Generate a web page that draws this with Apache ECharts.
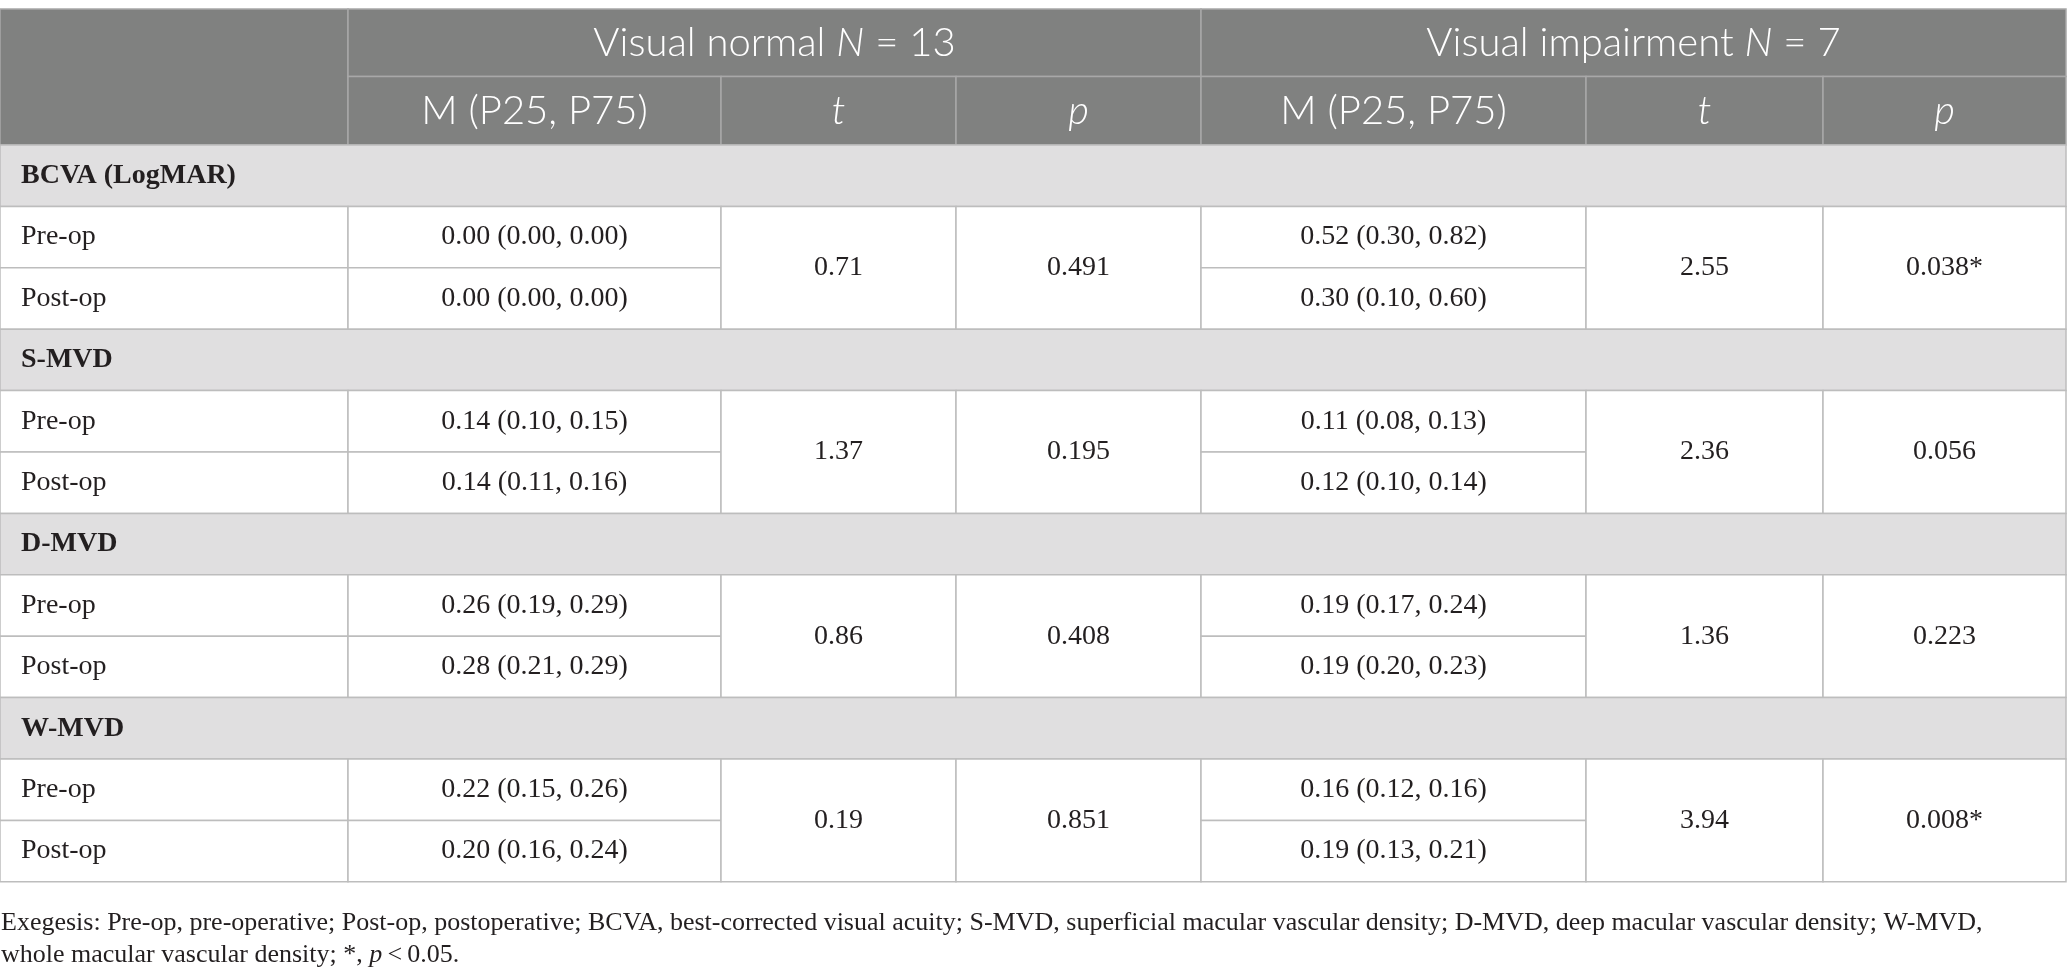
<!DOCTYPE html>
<html>
<head>
<meta charset="utf-8">
<script src="https://cdn.jsdelivr.net/npm/echarts@6/dist/echarts.min.js"></script>
<style>
  html, body { margin: 0; padding: 0; background: #fff; }
  #main { width: 2067px; height: 978px; }
</style>
</head>
<body>
<div id="main"></div>
<script>
// 表头
const groupNames = ['Visual normal', 'Visual impairment']
const groupN = [13, 7]
const subHeaders = ['M (P25, P75)', 't', 'p']
const measures = ['BCVA (LogMAR)', 'S-MVD', 'D-MVD', 'W-MVD']
const phases = ['Pre-op', 'Post-op']

// 视力正常组 每项 [Pre-op, Post-op]
const normalMedian = [[0.00, 0.00], [0.14, 0.14], [0.26, 0.28], [0.22, 0.20]]
const normalP25 = [[0.00, 0.00], [0.10, 0.11], [0.19, 0.21], [0.15, 0.16]]
const normalP75 = [[0.00, 0.00], [0.15, 0.16], [0.29, 0.29], [0.26, 0.24]]
const normalT = [0.71, 1.37, 0.86, 0.19]
const normalP = [0.491, 0.195, 0.408, 0.851]

// 视力损害组
const impairMedian = [[0.52, 0.30], [0.11, 0.12], [0.19, 0.19], [0.16, 0.19]]
const impairP25 = [[0.30, 0.10], [0.08, 0.10], [0.17, 0.20], [0.12, 0.13]]
const impairP75 = [[0.82, 0.60], [0.13, 0.14], [0.24, 0.23], [0.16, 0.21]]
const impairT = [2.55, 2.36, 1.36, 3.94]
const impairP = [0.038, 0.056, 0.223, 0.008]

// 注释
const footnote = [
  'Exegesis: Pre-op, pre-operative; Post-op, postoperative; BCVA, best-corrected visual acuity; S-MVD, superficial macular vascular density; D-MVD, deep macular vascular density; W-MVD,',
  'whole macular vascular density; *, {i|p}\u2009<\u20090.05.'
]

// 版面 (像素, 跟坐标轴 1:1)
const W = 2067
const H = 978
const colEdges = [0, 348, 721, 956, 1201, 1586, 1823, 2066]
const tableTop = 9
const head1Bottom = 76.5
const head2Bottom = 145
const rowH = 61.4

const serif = 'Liberation Serif'
const sans = 'Lato'
const styles = {
  head: { fill: '#808180', stroke: '#a8a8a8', color: '#fff', font: sans, size: 40, weight: 300 },
  band: { fill: '#e0dfe0', stroke: '#bdbdbd', color: '#231f20', font: serif, size: 28, weight: 'bold' },
  body: { fill: '#fff', stroke: '#bdbdbd', color: '#231f20', font: serif, size: 28, weight: 'normal' }
}

const groups = [
  { median: normalMedian, p25: normalP25, p75: normalP75, t: normalT, p: normalP },
  { median: impairMedian, p25: impairP25, p75: impairP75, t: impairT, p: impairP }
]

// 生成单元格
const cells = []
cells.push({ x0: colEdges[0], x1: colEdges[1], y0: tableTop, y1: head2Bottom, kind: 'head', text: '' })
groups.forEach((g, gi) => {
  const c0 = 1 + gi * 3
  cells.push({
    x0: colEdges[c0], x1: colEdges[c0 + 3], y0: tableTop, y1: head1Bottom, kind: 'head',
    text: groupNames[gi] + ' {i|N} = ' + groupN[gi]
  })
  subHeaders.forEach((s, si) => {
    cells.push({
      x0: colEdges[c0 + si], x1: colEdges[c0 + si + 1], y0: head1Bottom, y1: head2Bottom, kind: 'head',
      text: si === 0 ? s : '{i|' + s + '}'
    })
  })
})

measures.forEach((m, mi) => {
  const top = head2Bottom + mi * 3 * rowH
  cells.push({ x0: colEdges[0], x1: colEdges[7], y0: top, y1: top + rowH, kind: 'band', text: m, left: true })
  phases.forEach((ph, pi) => {
    const y0 = top + (pi + 1) * rowH
    cells.push({ x0: colEdges[0], x1: colEdges[1], y0: y0, y1: y0 + rowH, kind: 'body', text: ph, left: true })
  })
  groups.forEach((g, gi) => {
    const c0 = 1 + gi * 3
    phases.forEach((ph, pi) => {
      const y0 = top + (pi + 1) * rowH
      cells.push({
        x0: colEdges[c0], x1: colEdges[c0 + 1], y0: y0, y1: y0 + rowH, kind: 'body',
        text: g.median[mi][pi].toFixed(2) + ' (' + g.p25[mi][pi].toFixed(2) + ', ' + g.p75[mi][pi].toFixed(2) + ')'
      })
    })
    cells.push({
      x0: colEdges[c0 + 1], x1: colEdges[c0 + 2], y0: top + rowH, y1: top + 3 * rowH, kind: 'body',
      text: g.t[mi].toFixed(2)
    })
    cells.push({
      x0: colEdges[c0 + 2], x1: colEdges[c0 + 3], y0: top + rowH, y1: top + 3 * rowH, kind: 'body',
      text: g.p[mi].toFixed(3) + (g.p[mi] < 0.05 ? '*' : '')
    })
  })
})

function renderItem(params, api) {
  const c = cells[params.dataIndex]
  const st = styles[c.kind]
  const p0 = api.coord([api.value(0), api.value(1)])
  const p1 = api.coord([api.value(2), api.value(3)])
  const children = [{
    type: 'rect',
    shape: { x: p0[0], y: p0[1], width: p1[0] - p0[0], height: p1[1] - p0[1] },
    style: { fill: st.fill, stroke: st.stroke, lineWidth: 1.5 }
  }]
  if (c.text) {
    children.push({
      type: 'text',
      style: {
        text: c.text,
        x: c.left ? p0[0] + 21 : (p0[0] + p1[0]) / 2,
        y: (p0[1] + p1[1]) / 2,
        align: c.left ? 'left' : 'center',
        verticalAlign: 'middle',
        fill: st.color,
        fontFamily: st.font,
        fontSize: st.size,
        fontWeight: st.weight,
        rich: {
          i: { fontStyle: 'italic', fontFamily: st.font, fontSize: st.size, fontWeight: st.weight, fill: st.color }
        }
      }
    })
  }
  return { type: 'group', children: children }
}

const dom = document.getElementById('main')
const myChart = echarts.init(dom)

const option = {
  animation: false,
  backgroundColor: '#fff',
  title: {
    left: 1,
    top: 907,
    padding: 0,
    text: footnote.join('\n'),
    textStyle: {
      fontFamily: serif,
      fontSize: 26,
      fontWeight: 'normal',
      color: '#231f20',
      lineHeight: 32,
      rich: {
        i: { fontFamily: serif, fontSize: 26, fontStyle: 'italic', color: '#231f20', lineHeight: 32 }
      }
    }
  },
  grid: { left: 0, right: 0, top: 0, bottom: 0 },
  xAxis: { type: 'value', min: 0, max: W, show: false },
  yAxis: { type: 'value', min: 0, max: H, inverse: true, show: false },
  series: [{
    type: 'custom',
    silent: true,
    renderItem: renderItem,
    encode: { x: [0, 2], y: [1, 3] },
    data: cells.map(c => [c.x0, c.y0, c.x1, c.y1])
  }]
}

myChart.setOption(option)
</script>
</body>
</html>
